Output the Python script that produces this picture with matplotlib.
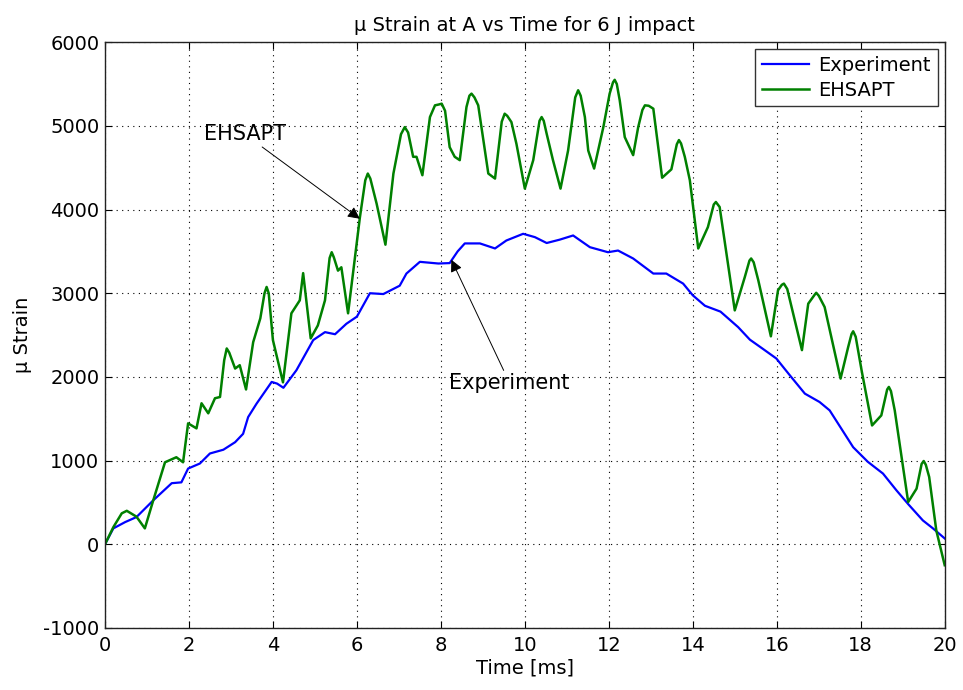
import numpy as np
import matplotlib.pyplot as plt

plt.rcParams['font.family'] = ['DejaVu Sans']
plt.rcParams['axes.unicode_minus'] = False

# EHSAPT prediction (time in ms, micro strain)
t_ehsapt = [0.0, 0.2, 0.4, 0.52, 0.75, 0.95, 1.15, 1.43, 1.7, 1.86, 1.98, 2.18, 2.3, 2.46, 2.62,
            2.74, 2.84, 2.9, 2.96, 3.1, 3.21, 3.36, 3.53, 3.7, 3.8, 3.85, 3.9, 4.0, 4.24, 4.44,
            4.64, 4.72, 4.9, 5.07, 5.24, 5.35, 5.4, 5.45, 5.55, 5.63, 5.79, 6.07, 6.2, 6.26,
            6.32, 6.47, 6.68, 6.87, 7.05, 7.14, 7.22, 7.34, 7.42, 7.56, 7.74, 7.86, 7.95,
            8.02, 8.1, 8.21, 8.33, 8.45, 8.61, 8.68, 8.73, 8.8, 8.89, 9.13, 9.29, 9.45, 9.52,
            9.58, 9.68, 9.8, 10.0, 10.2, 10.35, 10.4, 10.45, 10.52, 10.67, 10.85, 11.03, 11.2,
            11.27, 11.33, 11.43, 11.51, 11.65, 11.87, 12.02, 12.1, 12.14, 12.19, 12.26, 12.38,
            12.58, 12.7, 12.8, 12.86, 12.95, 13.06, 13.27, 13.49, 13.62, 13.67, 13.72, 13.81,
            13.93, 14.13, 14.36, 14.5, 14.55, 14.64, 15.0, 15.24, 15.35, 15.39, 15.45, 15.56,
            15.86, 16.03, 16.12, 16.17, 16.25, 16.6, 16.75, 16.9, 16.94, 17.0, 17.14, 17.52,
            17.7, 17.78, 17.82, 17.88, 18.02, 18.27, 18.49, 18.63, 18.67, 18.72, 18.81, 19.13,
            19.33, 19.45, 19.5, 19.55, 19.63, 19.8, 20.0]
s_ehsapt = [0, 205, 370, 400, 330, 190, 525, 980, 1040, 980, 1445, 1385, 1685, 1565, 1745,
            1760, 2200, 2340, 2290, 2100, 2140, 1850, 2415, 2700, 3000, 3075, 3000, 2440, 1935, 2760,
            2915, 3240, 2460, 2615, 2915, 3420, 3490, 3430, 3270, 3310, 2760, 3900, 4350, 4430,
            4370, 4070, 3580, 4430, 4900, 4985, 4920, 4630, 4630, 4410, 5105, 5245, 5255,
            5265, 5180, 4745, 4630, 4590, 5225, 5360, 5385, 5340, 5245, 4430, 4370, 5050, 5145,
            5120, 5045, 4785, 4250, 4590, 5060, 5105, 5060, 4905, 4590, 4250, 4705, 5340,
            5425, 5360, 5105, 4705, 4490, 4985, 5385, 5520, 5550, 5500, 5305, 4865,
            4650, 4985, 5190, 5245, 5240, 5205, 4380, 4480, 4780, 4830, 4790, 4630,
            4350, 3535, 3790, 4060, 4090, 4030, 2795, 3195, 3390, 3415, 3370, 3155,
            2485, 3035, 3100, 3115, 3050, 2320, 2875, 2980, 3005, 2970, 2835, 1980,
            2355, 2510, 2545, 2480, 2080, 1420, 1540, 1850, 1880, 1830, 1600, 505,
            665, 960, 995, 950, 805, 165, -250]

# measured strain
t_exp = [0.0, 0.2, 0.48, 0.75, 1.15, 1.59, 1.82, 1.98, 2.26, 2.5, 2.82, 3.1, 3.29, 3.41,
         3.61, 3.97, 4.1, 4.25, 4.56, 4.96, 5.24, 5.48, 5.75, 6.0, 6.31, 6.63, 7.02, 7.18, 7.5,
         7.94, 8.21, 8.4, 8.57, 8.93, 9.29, 9.56, 9.96, 10.24, 10.52, 10.83, 11.15, 11.55,
         11.98, 12.22, 12.58, 13.06, 13.37, 13.77, 14.0, 14.29, 14.66, 15.08, 15.36,
         15.67, 15.99, 16.31, 16.67, 17.02, 17.26, 17.54, 17.82, 18.17, 18.53, 18.85,
         19.13, 19.48, 19.72, 20.0]
s_exp = [0, 190, 265, 325, 525, 730, 740, 905, 965, 1085, 1130, 1220, 1320, 1520,
         1680, 1940, 1920, 1870, 2080, 2440, 2535, 2510, 2635, 2720, 3000, 2990, 3090, 3235, 3375,
         3355, 3360, 3500, 3595, 3595, 3535, 3630, 3710, 3670, 3600, 3640, 3690, 3550,
         3490, 3510, 3415, 3235, 3235, 3115, 2975, 2850, 2780, 2595, 2445,
         2335, 2220, 2020, 1800, 1700, 1600, 1380, 1160, 985, 845, 645,
         480, 285, 190, 70]

fig = plt.figure(figsize=(9.63, 6.9), dpi=100)
ax = fig.add_axes([0.109, 0.0899, 0.872, 0.849])

ax.plot(t_exp, s_exp, color='#0000ff', lw=1.6, label='Experiment')
ax.plot(t_ehsapt, s_ehsapt, color='#008000', lw=1.8, label='EHSAPT')

ax.set_xlim(0, 20)
ax.set_ylim(-1000, 6000)
ax.set_xticks(np.arange(0, 21, 2))
ax.set_yticks(np.arange(-1000, 6001, 1000))
ax.grid(True, color='black', linestyle=(0, (1, 4)), lw=0.8)
ax.tick_params(direction='in', length=5, labelsize=14, top=True, right=True)
ax.tick_params(axis='x', pad=6)
ax.tick_params(axis='y', pad=4)
for sp in ax.spines.values():
    sp.set_linewidth(1.0)
    sp.set_color('#222222')

ax.set_title('\u03bc Strain at A vs Time for 6 J impact', fontsize=14, pad=8)
ax.set_xlabel('Time [ms]', fontsize=14, labelpad=2)
ax.set_ylabel('\u03bc Strain', fontsize=14, labelpad=8)

leg = ax.legend(loc='upper right', fontsize=14, fancybox=False, framealpha=1,
                edgecolor='#333333', handlelength=2.4, borderaxespad=0.35,
                borderpad=0.35, labelspacing=0.3, handletextpad=0.5)
leg.get_frame().set_linewidth(1.0)

arrow = dict(arrowstyle='-|>', color='black', lw=0.7, mutation_scale=18, shrinkA=0, shrinkB=0)
ax.annotate('EHSAPT', xy=(6.07, 3890), xytext=(3.33, 4900), fontsize=15,
            ha='center', va='center', arrowprops=arrow)
ax.annotate('Experiment', xy=(8.25, 3400), xytext=(9.64, 1925), fontsize=15,
            ha='center', va='center', arrowprops=arrow)

fig.savefig('out.png', dpi=100)
